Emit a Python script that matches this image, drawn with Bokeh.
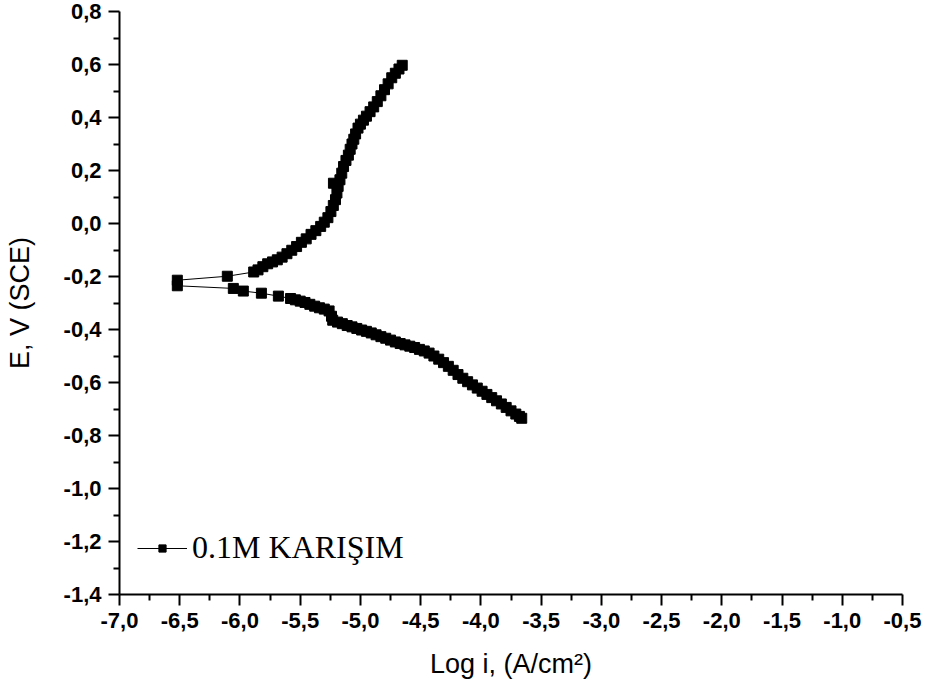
from bokeh.plotting import figure
from bokeh.models import Range1d, FixedTicker, Legend, LegendItem, ColumnDataSource
from bokeh.embed import file_html
from bokeh.resources import INLINE

# Cathodic branch (from corrosion potential outward)
cath_logi = [-6.52, -6.055, -5.972, -5.822, -5.681, -5.58, -5.54, -5.50, -5.46, -5.42,
             -5.38, -5.34, -5.30, -5.26, -5.24, -5.23, -5.19, -5.15, -5.11, -5.07,
             -5.03, -4.99, -4.95, -4.91, -4.87, -4.83, -4.79, -4.75, -4.71, -4.67,
             -4.63, -4.59, -4.55, -4.51, -4.47, -4.43, -4.39, -4.35, -4.31, -4.27,
             -4.23, -4.19, -4.15, -4.11, -4.07, -4.03, -3.99, -3.95, -3.91, -3.87,
             -3.83, -3.79, -3.75, -3.71, -3.68, -3.661]
cath_e = [-0.235, -0.245, -0.255, -0.263, -0.274, -0.283, -0.288, -0.293, -0.298, -0.305,
          -0.312, -0.318, -0.323, -0.330, -0.350, -0.365, -0.372, -0.378, -0.385, -0.390,
          -0.396, -0.402, -0.407, -0.413, -0.420, -0.427, -0.433, -0.440, -0.447, -0.453,
          -0.458, -0.463, -0.468, -0.475, -0.481, -0.489, -0.500, -0.512, -0.525, -0.539,
          -0.554, -0.570, -0.584, -0.597, -0.609, -0.621, -0.633, -0.645, -0.657, -0.669,
          -0.681, -0.694, -0.707, -0.719, -0.728, -0.735]

# Anodic branch
anod_logi = [-6.52, -6.105, -5.886, -5.85, -5.81, -5.77, -5.73, -5.69, -5.65, -5.61,
             -5.57, -5.53, -5.49, -5.45, -5.41, -5.37, -5.33, -5.30, -5.27, -5.245,
             -5.225, -5.207, -5.195, -5.224, -5.185, -5.17, -5.155, -5.14, -5.12, -5.10,
             -5.085, -5.07, -5.055, -5.04, -5.02, -5.00, -4.975, -4.95, -4.92, -4.89,
             -4.86, -4.83, -4.80, -4.77, -4.74, -4.71, -4.68, -4.653]
anod_e = [-0.214, -0.199, -0.183, -0.175, -0.163, -0.152, -0.145, -0.137, -0.127, -0.114,
          -0.101, -0.087, -0.071, -0.058, -0.041, -0.027, -0.011, 0.005, 0.022, 0.045,
          0.068, 0.090, 0.115, 0.152, 0.140, 0.165, 0.190, 0.215, 0.238, 0.258,
          0.280, 0.300, 0.318, 0.338, 0.360, 0.375, 0.390, 0.405, 0.422, 0.440,
          0.460, 0.482, 0.505, 0.527, 0.550, 0.567, 0.583, 0.597]

x_ticks = [-7.0, -6.5, -6.0, -5.5, -5.0, -4.5, -4.0, -3.5, -3.0, -2.5, -2.0, -1.5, -1.0, -0.5]
x_tick_labels = ["-7,0", "-6,5", "-6,0", "-5,5", "-5,0", "-4,5", "-4,0", "-3,5", "-3,0",
                 "-2,5", "-2,0", "-1,5", "-1,0", "-0,5"]
x_minor = [-6.75, -6.25, -5.75, -5.25, -4.75, -4.25, -3.75, -3.25, -2.75, -2.25, -1.75, -1.25, -0.75]
y_ticks = [-1.4, -1.2, -1.0, -0.8, -0.6, -0.4, -0.2, 0.0, 0.2, 0.4, 0.6, 0.8]
y_tick_labels = ["-1,4", "-1,2", "-1,0", "-0,8", "-0,6", "-0,4", "-0,2", "0,0", "0,2", "0,4", "0,6", "0,8"]
y_minor = [-1.3, -1.1, -0.9, -0.7, -0.5, -0.3, -0.1, 0.1, 0.3, 0.5, 0.7]

series_label = "0.1M KARIŞIM"

xs = list(reversed(cath_logi)) + anod_logi
ys = list(reversed(cath_e)) + anod_e
src = ColumnDataSource(data=dict(x=xs, y=ys))

p = figure(width=925, height=690, output_backend="svg", toolbar_location=None,
           x_range=Range1d(-7.0, -0.5), y_range=Range1d(-1.4, 0.8),
           min_border_left=119, min_border_right=23, min_border_top=11, min_border_bottom=96)
p.outline_line_color = None
p.xgrid.visible = False
p.ygrid.visible = False
p.background_fill_color = "white"
p.border_fill_color = "white"

ln = p.line("x", "y", source=src, line_color="black", line_width=1)
sc = p.scatter("x", "y", source=src, marker="square", size=10, fill_color="black", line_color="black")

for ax, ticks, minor, labels in [(p.xaxis[0], x_ticks, x_minor, x_tick_labels),
                                 (p.yaxis[0], y_ticks, y_minor, y_tick_labels)]:
    ax.ticker = FixedTicker(ticks=ticks, minor_ticks=minor)
    ax.major_label_overrides = {t: l for t, l in zip(ticks, labels)}
    ax.axis_line_width = 2
    ax.axis_line_color = "black"
    ax.major_tick_line_width = 2
    ax.minor_tick_line_width = 2
    ax.major_tick_out = 11
    ax.major_tick_in = 0
    ax.minor_tick_out = 6
    ax.minor_tick_in = 0
    ax.major_label_text_font = "Liberation Sans"
    ax.major_label_text_font_style = "bold"
    ax.major_label_text_font_size = "22px"
    ax.major_label_text_color = "black"
    ax.major_label_standoff = 7
    ax.axis_label_text_font = "Liberation Sans"
    ax.axis_label_text_font_style = "normal"
    ax.axis_label_text_font_size = "27px"
    ax.axis_label_text_color = "black"

p.xaxis[0].axis_label = "Log i, (A/cm²)"
p.xaxis[0].axis_label_standoff = 18
p.yaxis[0].axis_label = "E, V (SCE)"
p.yaxis[0].axis_label_standoff = 26

legend = Legend(items=[LegendItem(label=series_label, renderers=[ln, sc])],
                location=(18, 28), padding=0, margin=0, spacing=0,
                border_line_color=None, background_fill_alpha=0,
                glyph_width=50, glyph_height=18, label_height=30, label_standoff=5,
                label_text_font="Liberation Serif", label_text_font_size="32px",
                label_text_color="black")
p.add_layout(legend)

open("out.html", "w").write(file_html(p, INLINE))
